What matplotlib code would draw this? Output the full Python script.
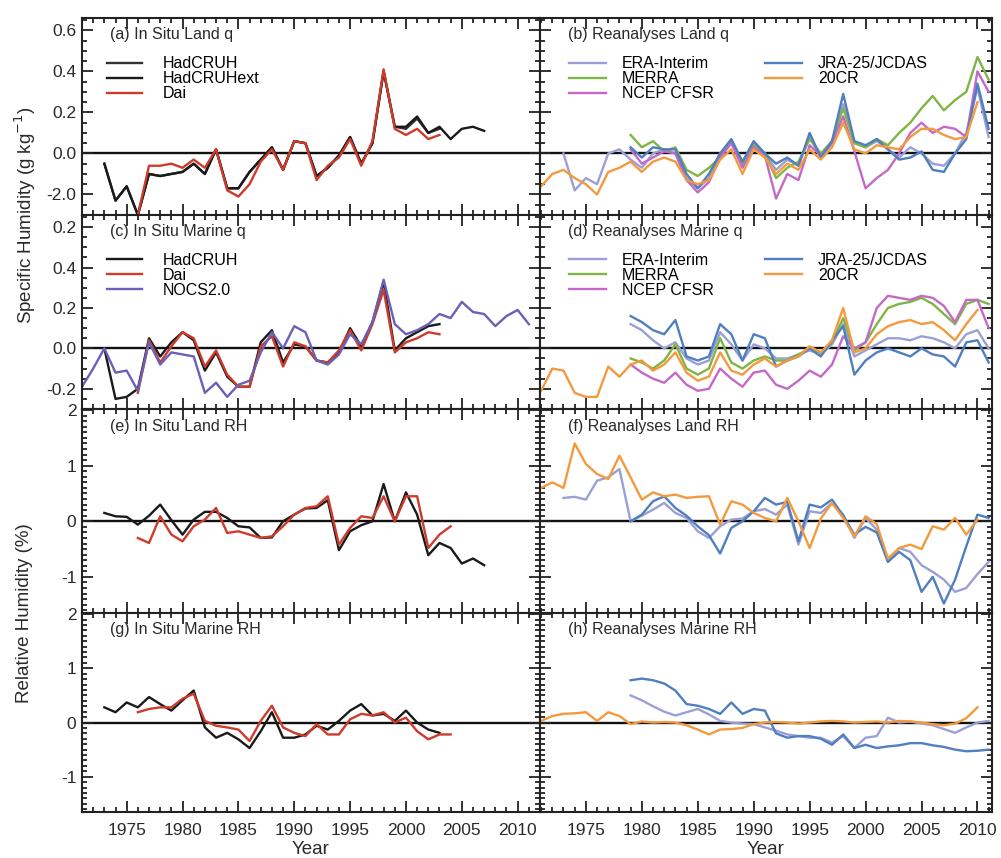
import numpy as np
import matplotlib
matplotlib.use("Agg")
import matplotlib.pyplot as plt
from matplotlib.ticker import MultipleLocator, FixedLocator, FixedFormatter

plt.rcParams['font.family'] = ['Liberation Sans', 'DejaVu Sans']

# ---------------- data ----------------
# (a) In situ land q (g/kg)
yrs_a_ext = list(range(1973, 2008))
a_hadcruhext = [-0.05, -0.23, -0.16, -0.30, -0.10, -0.11, -0.10, -0.09, -0.05, -0.10, 0.02, -0.17, -0.17,
                -0.09, -0.03, 0.03, -0.08, 0.06, 0.05, -0.11, -0.07, -0.01, 0.08, -0.05, 0.05, 0.40, 0.13,
                0.13, 0.18, 0.10, 0.13, 0.07, 0.12, 0.13, 0.11]
yrs_a_had = list(range(1973, 2004))
a_hadcruh = [-0.05, -0.23, -0.16, -0.30, -0.10, -0.11, -0.10, -0.09, -0.05, -0.10, 0.02, -0.17, -0.17,
             -0.09, -0.03, 0.03, -0.08, 0.06, 0.05, -0.11, -0.07, -0.01, 0.08, -0.05, 0.05, 0.40, 0.13,
             0.12, 0.17, 0.10, 0.12]
yrs_a_dai = list(range(1976, 2004))
a_dai = [-0.30, -0.06, -0.06, -0.05, -0.07, -0.03, -0.07, 0.02, -0.18, -0.21, -0.15, -0.04, 0.02, -0.08,
         0.06, 0.05, -0.13, -0.06, -0.02, 0.07, -0.06, 0.06, 0.41, 0.12, 0.09, 0.12, 0.07, 0.09]

# (c) In situ marine q
yrs_c_had = list(range(1973, 2004))
c_hadcruh = [0.0, -0.25, -0.24, -0.20, 0.05, -0.04, 0.03, 0.08, 0.04, -0.11, -0.02, -0.14, -0.19, -0.19,
             0.03, 0.09, -0.07, 0.02, 0.01, -0.06, -0.07, -0.02, 0.10, 0.01, 0.13, 0.33, -0.01, 0.05,
             0.08, 0.11, 0.12]
yrs_c_dai = list(range(1976, 2004))
c_dai = [-0.22, 0.04, -0.07, 0.01, 0.08, 0.05, -0.09, -0.01, -0.13, -0.19, -0.19, 0.01, 0.06, -0.09,
         0.03, 0.01, -0.06, -0.07, -0.01, 0.09, -0.01, 0.12, 0.29, -0.02, 0.03, 0.05, 0.08, 0.07]
yrs_c_nocs = list(range(1971, 2012))
c_nocs = [-0.19, -0.10, 0.0, -0.12, -0.11, -0.21, 0.03, -0.08, -0.02, -0.03, -0.04, -0.22, -0.17, -0.24,
          -0.18, -0.16, -0.02, 0.08, 0.0, 0.11, 0.08, -0.06, -0.08, -0.03, 0.07, 0.02, 0.13, 0.34,
          0.12, 0.07, 0.09, 0.12, 0.17, 0.15, 0.23, 0.18, 0.17, 0.11, 0.16, 0.19, 0.12]

# (e) In situ land RH (%)
yrs_e_ext = list(range(1973, 2008))
e_hadcruhext = [0.15, 0.09, 0.08, -0.06, 0.10, 0.30, 0.02, -0.24, 0.03, 0.17, 0.17, 0.06, -0.09, -0.11,
                -0.30, -0.29, 0.0, 0.12, 0.23, 0.24, 0.38, -0.52, -0.18, -0.07, 0.0, 0.67, 0.0, 0.52,
                0.12, -0.61, -0.39, -0.48, -0.76, -0.67, -0.79]
yrs_e_dai = list(range(1976, 2005))
e_dai = [-0.30, -0.39, 0.09, -0.24, -0.36, -0.09, 0.03, 0.24, -0.21, -0.18, -0.24, -0.30, -0.27, -0.09,
         0.12, 0.24, 0.27, 0.45, -0.42, -0.12, 0.09, 0.06, 0.45, 0.0, 0.45, 0.45, -0.48, -0.24, -0.09]

# (g) In situ marine RH
yrs_g_had = list(range(1973, 2004))
g_hadcruh = [0.28, 0.19, 0.37, 0.28, 0.47, 0.34, 0.22, 0.41, 0.59, -0.09, -0.28, -0.19, -0.31, -0.47,
             -0.16, 0.19, -0.28, -0.28, -0.22, -0.06, -0.13, 0.03, 0.22, 0.34, 0.13, 0.16, 0.03, 0.22,
             0.0, -0.13, -0.19]
yrs_g_dai = list(range(1976, 2005))
g_dai = [0.19, 0.25, 0.28, 0.28, 0.44, 0.53, 0.03, -0.06, -0.09, -0.13, -0.34, 0.03, 0.31, -0.09,
         -0.19, -0.25, -0.03, -0.22, -0.22, 0.06, 0.16, 0.13, 0.19, 0.0, 0.09, -0.16, -0.31, -0.22, -0.22]

# Reanalyses
yrs_r = list(range(1979, 2012))
yrs_20cr = list(range(1971, 2011))

# (b) land q
yrs_b_era = list(range(1973, 2012))
b_era = [0.0, -0.18, -0.12, -0.15, 0.0, 0.02, -0.03, -0.07, 0.0, 0.02, 0.0, -0.12, -0.17, -0.12, 0.0,
         0.06, -0.05, 0.05, 0.0, -0.08, -0.03, -0.06, 0.08, -0.02, 0.05, 0.24, 0.05, 0.03, 0.06, 0.02,
         -0.02, 0.03, 0.0, -0.05, -0.06, 0.0, 0.10, 0.32, 0.08]
b_merra = [0.09, 0.03, 0.06, 0.01, 0.03, -0.08, -0.11, -0.07, -0.02, 0.06, -0.05, 0.04, 0.0, -0.12,
           -0.07, -0.04, 0.07, 0.0, 0.06, 0.22, 0.05, 0.03, 0.07, 0.04, 0.10, 0.15, 0.22, 0.28, 0.21,
           0.26, 0.30, 0.47, 0.36]
b_ncep = [0.02, -0.05, -0.02, 0.01, 0.0, -0.13, -0.19, -0.14, -0.02, 0.05, -0.07, 0.03, -0.01, -0.22,
          -0.10, -0.13, 0.04, -0.01, 0.05, 0.18, 0.01, -0.17, -0.12, -0.08, 0.0, 0.10, 0.15, 0.10, 0.13,
          0.12, 0.08, 0.40, 0.30]
b_jra = [0.03, -0.02, 0.03, 0.02, 0.02, -0.10, -0.17, -0.10, 0.0, 0.07, -0.04, 0.06, 0.0, -0.05, -0.02,
         -0.06, 0.10, -0.02, 0.06, 0.29, 0.06, 0.04, 0.07, 0.02, -0.03, -0.02, 0.01, -0.08, -0.09, 0.0,
         0.07, 0.34, 0.12]
b_20cr = [-0.16, -0.10, -0.08, -0.12, -0.15, -0.20, -0.09, -0.07, -0.04, -0.09, -0.04, -0.02, -0.04,
          -0.13, -0.15, -0.13, -0.03, 0.02, -0.10, 0.02, -0.02, -0.10, -0.05, -0.08, 0.02, -0.03, 0.03,
          0.15, 0.02, 0.0, 0.04, 0.03, 0.02, 0.08, 0.12, 0.12, 0.09, 0.07, 0.08, 0.25]

# (d) marine q
d_era = [0.12, 0.09, 0.04, 0.0, 0.03, -0.05, -0.08, -0.06, 0.08, 0.02, -0.06, 0.02, 0.0, -0.05, -0.05,
         -0.03, -0.01, -0.03, 0.02, 0.12, -0.04, -0.01, 0.02, 0.05, 0.05, 0.04, 0.06, 0.05, 0.03, 0.0,
         0.07, 0.09, 0.0]
d_merra = [-0.05, -0.07, -0.10, -0.06, 0.02, -0.10, -0.13, -0.10, 0.05, -0.07, -0.10, -0.06, -0.04,
           -0.06, -0.06, -0.03, 0.0, -0.02, 0.03, 0.15, -0.01, 0.03, 0.12, 0.20, 0.22, 0.23, 0.25, 0.22,
           0.17, 0.12, 0.22, 0.24, 0.22]
d_ncep = [-0.08, -0.12, -0.15, -0.17, -0.12, -0.18, -0.21, -0.20, -0.10, -0.15, -0.19, -0.12, -0.11,
          -0.18, -0.20, -0.16, -0.11, -0.14, -0.08, 0.06, 0.00, 0.03, 0.20, 0.26, 0.25, 0.24, 0.26, 0.25,
          0.21, 0.13, 0.24, 0.24, 0.10]
d_jra = [0.16, 0.13, 0.09, 0.07, 0.14, -0.04, -0.06, -0.04, 0.12, 0.07, -0.06, 0.07, 0.05, -0.09, -0.06,
         -0.04, 0.0, -0.04, 0.04, 0.11, -0.13, -0.06, -0.02, 0.0, -0.02, -0.04, 0.0, -0.03, -0.04, -0.09,
         0.03, 0.04, -0.07]
d_20cr = [-0.21, -0.10, -0.11, -0.22, -0.24, -0.24, -0.09, -0.14, -0.08, -0.06, -0.11, -0.08, -0.02,
          -0.12, -0.16, -0.14, -0.02, -0.11, -0.13, -0.08, -0.05, -0.09, -0.06, -0.04, 0.01, -0.02, 0.04,
          0.20, -0.02, 0.0, 0.07, 0.11, 0.13, 0.14, 0.12, 0.13, 0.09, 0.04, 0.12, 0.19]

# (f) land RH
yrs_f_era = list(range(1973, 2012))
f_era = [0.42, 0.44, 0.39, 0.73, 0.79, 0.94, 0.0, 0.10, 0.21, 0.33, 0.15, 0.06, -0.18, -0.30, -0.09,
         0.03, 0.05, 0.18, 0.22, 0.12, 0.30, -0.42, 0.18, 0.15, 0.33, 0.12, -0.30, 0.06, -0.15, -0.73,
         -0.48, -0.55, -0.79, -0.91, -1.05, -1.27, -1.20, -0.95, -0.73]
f_jra = [0.0, 0.12, 0.36, 0.45, 0.24, 0.10, -0.09, -0.25, -0.58, -0.12, 0.0, 0.18, 0.42, 0.30, 0.35,
         -0.36, 0.30, 0.25, 0.39, 0.10, -0.24, -0.10, -0.20, -0.73, -0.55, -0.70, -1.27, -1.00, -1.48,
         -1.05, -0.45, 0.12, 0.06]
f_20cr = [0.60, 0.70, 0.60, 1.40, 1.03, 0.85, 0.76, 1.18, 0.79, 0.39, 0.52, 0.45, 0.48, 0.42, 0.44, 0.45,
          -0.06, 0.36, 0.30, 0.15, 0.06, 0.0, 0.42, 0.0, -0.48, 0.05, 0.33, 0.06, -0.27, 0.09, -0.05,
          -0.67, -0.48, -0.42, -0.50, -0.09, -0.15, 0.06, -0.24, 0.03]

# (h) marine RH
h_era = [0.50, 0.41, 0.30, 0.20, 0.13, 0.19, 0.25, 0.15, 0.03, 0.0, -0.02, -0.03, -0.09, -0.15, -0.22,
         -0.25, -0.28, -0.28, -0.37, -0.25, -0.47, -0.28, -0.25, 0.09, 0.0, 0.02, -0.02, -0.05, -0.12,
         -0.19, -0.09, 0.0, 0.03]
h_jra = [0.78, 0.81, 0.78, 0.72, 0.59, 0.34, 0.31, 0.25, 0.16, 0.37, 0.16, 0.25, 0.22, -0.20, -0.28,
         -0.25, -0.25, -0.30, -0.41, -0.22, -0.47, -0.41, -0.47, -0.44, -0.42, -0.38, -0.38, -0.42, -0.45,
         -0.50, -0.53, -0.52, -0.50]
h_20cr = [0.03, 0.12, 0.16, 0.17, 0.19, 0.03, 0.19, 0.12, -0.03, 0.02, 0.0, 0.01, 0.0, -0.05, -0.13,
          -0.22, -0.13, -0.12, -0.10, -0.03, 0.0, 0.01, 0.0, -0.02, 0.0, 0.02, 0.03, 0.02, 0.0, 0.01, 0.02,
          0.0, 0.03, 0.02, 0.0, -0.03, -0.05, -0.02, 0.08, 0.28]

q_ticks = [-0.2, 0.0, 0.2, 0.4, 0.6]
a_ticklabels = ["-2.0", "0.0", "0.2", "0.4", "0.6"]
c_ticklabels = ["-0.2", "0.0", "0.2", "0.4", "0.2"]
rh_ticks = [-1, 0, 1, 2]
rh_ticklabels = ["-1", "0", "1", "2"]
x_ticks = [1975, 1980, 1985, 1990, 1995, 2000, 2005, 2010]

# ---------------- style ----------------
C_BLACK = "#1a1a1a"
C_DAI = "#cf3b2b"
C_NOCS = "#6a60b8"
C_ERA = "#9aa0d6"
C_MERRA = "#80b545"
C_NCEP = "#c469c6"
C_JRA = "#4f7fbe"
C_20CR = "#f39a3e"

W, H = 1001, 858
fig = plt.figure(figsize=(W / 100, H / 100), dpi=100)

def fx(px):
    return px / W

def fy_rect(top, bottom):
    return 1 - bottom / H, (bottom - top) / H

rows = [(18, 215), (215, 409), (409, 613), (613, 812)]
cols = [(82, 540), (540, 992)]
xlims = [(1971.0, 2012.0), (1970.9, 2011.3)]

axes = {}
names = [["a", "b"], ["c", "d"], ["e", "f"], ["g", "h"]]
for r, (t, b) in enumerate(rows):
    for c, (l, rr) in enumerate(cols):
        y0, hh = fy_rect(t, b)
        ax = fig.add_axes([fx(l), y0, fx(rr - l), hh])
        axes[names[r][c]] = ax

LW = 1.7
FS_TICK = 12.5
FS_LEG = 11.5
FS_LAB = 13.5
TXT = '#2a2a2a'

def style(ax, row, col):
    ax.set_xlim(*xlims[col])
    if row < 2:
        ax.set_ylim(-0.30, 0.66)
        ax.yaxis.set_major_locator(FixedLocator(q_ticks))
        ax.yaxis.set_minor_locator(MultipleLocator(0.05))
        if col == 0:
            ax.yaxis.set_major_formatter(FixedFormatter(a_ticklabels if row == 0 else c_ticklabels))
    else:
        ax.set_ylim(-1.65, 2.02)
        ax.yaxis.set_major_locator(FixedLocator(rh_ticks))
        ax.yaxis.set_minor_locator(MultipleLocator(0.1))
        if col == 0:
            ax.yaxis.set_major_formatter(FixedFormatter(rh_ticklabels))
    ax.set_xticks(x_ticks)
    ax.xaxis.set_minor_locator(MultipleLocator(1))
    ax.tick_params(which='both', direction='in', top=True, right=True, width=1.3, colors='#222222')
    ax.tick_params(which='major', length=8)
    ax.tick_params(which='minor', length=3.5)
    ax.tick_params(axis='both', labelsize=FS_TICK, labelcolor=TXT)
    ax.tick_params(axis='x', pad=8)
    ax.tick_params(axis='y', pad=4)
    if col == 1:
        ax.tick_params(axis='y', labelleft=False)
    if row < 3:
        ax.tick_params(axis='x', labelbottom=False)
    for s in ax.spines.values():
        s.set_linewidth(1.5)
        s.set_color('#222222')
    ax.axhline(0, color='#111111', lw=1.7, zorder=1)
    for tk in ax.xaxis.get_major_ticks():
        if round(tk.get_loc()) % 10 != 0:
            tk.tick1line.set_markersize(3.5)
            tk.tick2line.set_markersize(3.5)

for r in range(4):
    for c in range(2):
        style(axes[names[r][c]], r, c)

# ---- plotting ----
ax = axes["a"]
ax.plot(yrs_a_had, a_hadcruh, color="#333333", lw=LW, label="HadCRUH")
ax.plot(yrs_a_ext, a_hadcruhext, color=C_BLACK, lw=LW, label="HadCRUHext")
ax.plot(yrs_a_dai, a_dai, color=C_DAI, lw=LW, label="Dai")

ax = axes["c"]
ax.plot(yrs_c_had, c_hadcruh, color=C_BLACK, lw=LW, label="HadCRUH")
ax.plot(yrs_c_dai, c_dai, color=C_DAI, lw=LW, label="Dai")
ax.plot(yrs_c_nocs, c_nocs, color=C_NOCS, lw=LW, label="NOCS2.0")

ax = axes["e"]
ax.plot(yrs_e_ext, e_hadcruhext, color=C_BLACK, lw=LW)
ax.plot(yrs_e_dai, e_dai, color=C_DAI, lw=LW)

ax = axes["g"]
ax.plot(yrs_g_had, g_hadcruh, color=C_BLACK, lw=LW)
ax.plot(yrs_g_dai, g_dai, color=C_DAI, lw=LW)

ax = axes["b"]
ax.plot(yrs_b_era, b_era, color=C_ERA, lw=LW, label="ERA-Interim")
ax.plot(yrs_r, b_merra, color=C_MERRA, lw=LW, label="MERRA")
ax.plot(yrs_r, b_ncep, color=C_NCEP, lw=LW, label="NCEP CFSR")
ax.plot(yrs_r, b_jra, color=C_JRA, lw=LW, label="JRA-25/JCDAS")
ax.plot(yrs_20cr, b_20cr, color=C_20CR, lw=LW, label="20CR")

ax = axes["d"]
ax.plot(yrs_r, d_era, color=C_ERA, lw=LW, label="ERA-Interim")
ax.plot(yrs_r, d_merra, color=C_MERRA, lw=LW, label="MERRA")
ax.plot(yrs_r, d_ncep, color=C_NCEP, lw=LW, label="NCEP CFSR")
ax.plot(yrs_r, d_jra, color=C_JRA, lw=LW, label="JRA-25/JCDAS")
ax.plot(yrs_20cr, d_20cr, color=C_20CR, lw=LW, label="20CR")

ax = axes["f"]
ax.plot(yrs_f_era, f_era, color=C_ERA, lw=LW)
ax.plot(yrs_r, f_jra, color=C_JRA, lw=LW)
ax.plot(yrs_20cr, f_20cr, color=C_20CR, lw=LW)

ax = axes["h"]
ax.plot(yrs_r, h_era, color=C_ERA, lw=LW)
ax.plot(yrs_r, h_jra, color=C_JRA, lw=LW)
ax.plot(yrs_20cr, h_20cr, color=C_20CR, lw=LW)

# ---- titles & legends ----
titles = {"a": "(a) In Situ Land q", "b": "(b) Reanalyses Land q",
          "c": "(c) In Situ Marine q", "d": "(d) Reanalyses Marine q",
          "e": "(e) In Situ Land RH", "f": "(f) Reanalyses Land RH",
          "g": "(g) In Situ Marine RH", "h": "(h) Reanalyses Marine RH"}
for k, t in titles.items():
    axx = axes[k]
    axx.text(0.062, 0.915, t, transform=axx.transAxes, fontsize=FS_LEG, color=TXT,
             va='center', ha='left')

for k in ["a", "c"]:
    axes[k].legend(loc='upper left', bbox_to_anchor=(0.055, 0.805), frameon=False, fontsize=FS_LEG,
                   handlelength=2.2, handletextpad=1.3, labelspacing=0.0, borderpad=0,
                   borderaxespad=0)
for k in ["b", "d"]:
    axes[k].legend(loc='upper left', bbox_to_anchor=(0.065, 0.805), frameon=False, fontsize=FS_LEG,
                   handlelength=2.3, handletextpad=1.0, labelspacing=0.0, borderpad=0,
                   borderaxespad=0, ncol=2, columnspacing=3.2)

# axis labels
fig.text(fx(25), 1 - 215 / H, "Specific Humidity (g kg$^{-1}$)", rotation=90, ha='center', va='center',
         fontsize=FS_LAB, color=TXT)
fig.text(fx(25), 1 - 613 / H, "Relative Humidity (%)", rotation=90, ha='center', va='center',
         fontsize=FS_LAB, color=TXT)
axes["g"].set_xlabel("Year", fontsize=FS_LAB, color=TXT, labelpad=2)
axes["h"].set_xlabel("Year", fontsize=FS_LAB, color=TXT, labelpad=2)

fig.savefig("out.png", dpi=100)
